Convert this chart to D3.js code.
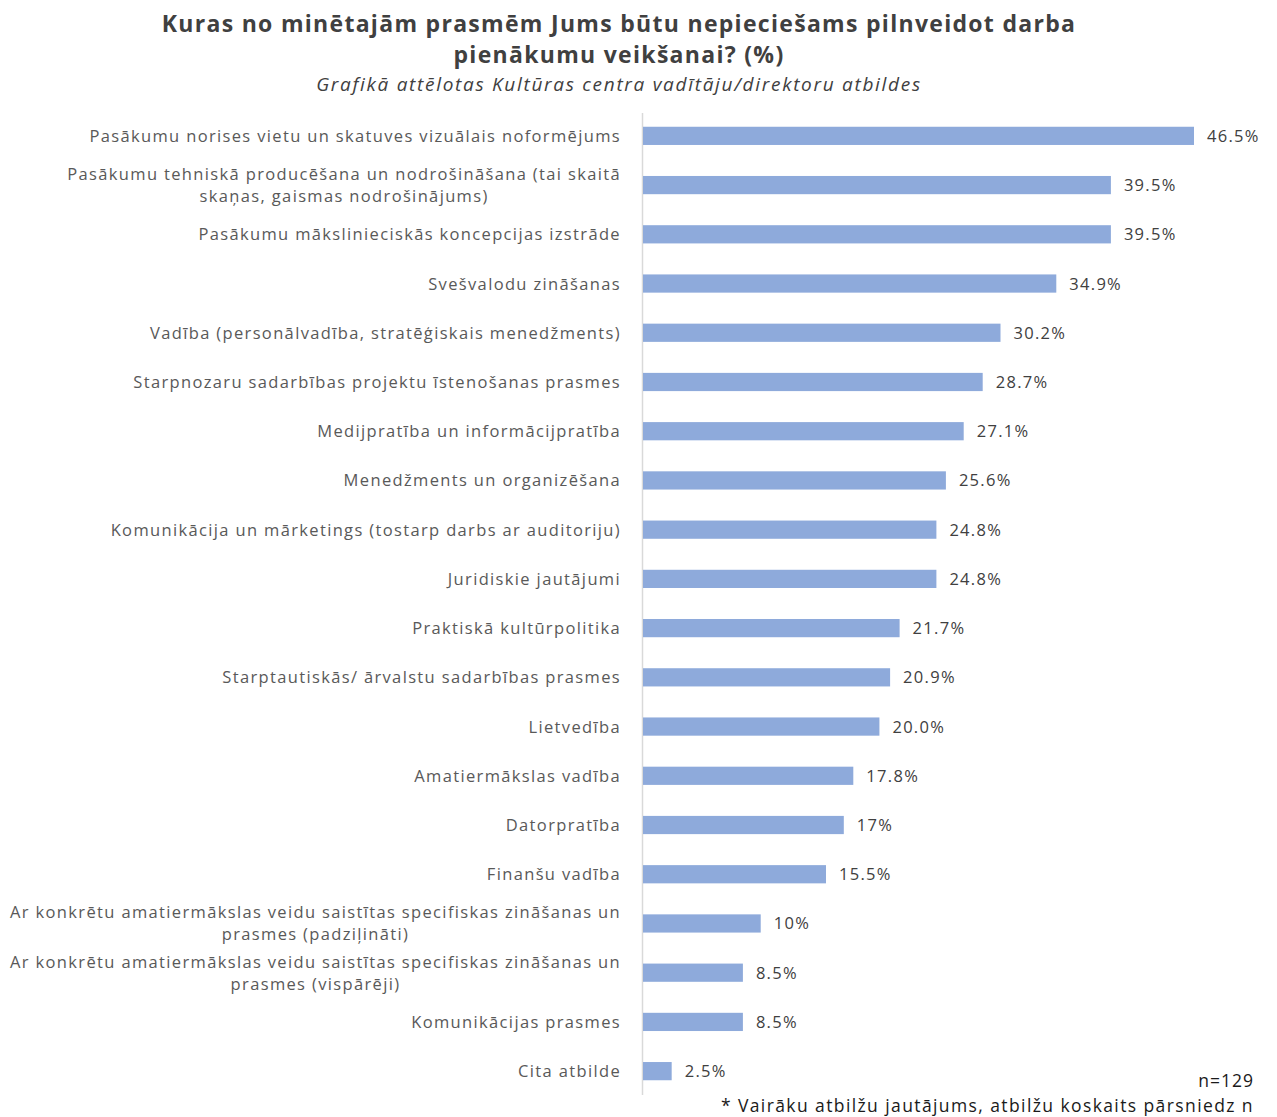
<!DOCTYPE html>
<html>
<head>
<meta charset="utf-8">
<script src="https://cdn.jsdelivr.net/npm/d3@7"></script>
<style>
  body { margin: 0; background: #fff; }
  svg { display: block; }
  .title { font-family: "Open Sans", sans-serif; font-weight: bold; fill: #404040; }
  .subtitle { font-family: "Open Sans", sans-serif; font-style: italic; fill: #404040; }
  .cat-label { font-family: "Open Sans", sans-serif; fill: #595959; }
  .val-label { font-family: "Open Sans", sans-serif; fill: #404040; }
  .note { font-family: "Open Sans", sans-serif; fill: #1a1a1a; }
</style>
</head>
<body>
<div id="chart"></div>
<script>

// kategorijas (rindas var būt divās līnijās)
var categories = [
    ["Pasākumu norises vietu un skatuves vizuālais noformējums"],
    ["Pasākumu tehniskā producēšana un nodrošināšana (tai skaitā", "skaņas, gaismas nodrošinājums)"],
    ["Pasākumu mākslinieciskās koncepcijas izstrāde"],
    ["Svešvalodu zināšanas"],
    ["Vadība (personālvadība, stratēģiskais menedžments)"],
    ["Starpnozaru sadarbības projektu īstenošanas prasmes"],
    ["Medijpratība un informācijpratība"],
    ["Menedžments un organizēšana"],
    ["Komunikācija un mārketings (tostarp darbs ar auditoriju)"],
    ["Juridiskie jautājumi"],
    ["Praktiskā kultūrpolitika"],
    ["Starptautiskās/ ārvalstu sadarbības prasmes"],
    ["Lietvedība"],
    ["Amatiermākslas vadība"],
    ["Datorpratība"],
    ["Finanšu vadība"],
    ["Ar konkrētu amatiermākslas veidu saistītas specifiskas zināšanas un", "prasmes (padziļināti)"],
    ["Ar konkrētu amatiermākslas veidu saistītas specifiskas zināšanas un", "prasmes (vispārēji)"],
    ["Komunikācijas prasmes"],
    ["Cita atbilde"]
];

var values = [46.5, 39.5, 39.5, 34.9, 30.2, 28.7, 27.1, 25.6, 24.8, 24.8, 21.7, 20.9, 20.0, 17.8, 17, 15.5, 10, 8.5, 8.5, 2.5];

var valueLabels = ["46.5%", "39.5%", "39.5%", "34.9%", "30.2%", "28.7%", "27.1%", "25.6%", "24.8%", "24.8%",
                   "21.7%", "20.9%", "20.0%", "17.8%", "17%", "15.5%", "10%", "8.5%", "8.5%", "2.5%"];

var titleLines = ["Kuras no minētajām prasmēm Jums būtu nepieciešams pilnveidot darba", "pienākumu veikšanai? (%)"];
var subtitle = "Grafikā attēlotas Kultūras centra vadītāju/direktoru atbildes";
var nNote = "n=129";
var footNote = "* Vairāku atbilžu jautājums, atbilžu koskaits pārsniedz n";

var width = 1277, height = 1117;
var margin = {top: 111, left: 642, right: 0, bottom: 21};

var svg = d3.select("#chart").append("svg")
    .attr("width", width)
    .attr("height", height);

var idx = d3.range(values.length);

var x = d3.scaleLinear()
    .domain([0, 46.5])
    .range([margin.left, 1194]);

var y = d3.scaleBand()
    .domain(idx)
    .range([111, 1096])
    .paddingInner(0.63)
    .paddingOuter(0.32);

/* virsraksts */
svg.selectAll(".title")
    .data(titleLines)
    .enter().append("text")
    .attr("class", "title")
    .attr("x", 619)
    .attr("y", function(d, i){ return 32 + i * 31; })
    .attr("text-anchor", "middle")
    .style("font-size", "23px")
    .style("letter-spacing", "1.3px")
    .text(function(d){ return d; });

svg.append("text")
    .attr("class", "subtitle")
    .attr("x", 619)
    .attr("y", 91)
    .attr("text-anchor", "middle")
    .style("font-size", "19px")
    .style("letter-spacing", "1.7px")
    .text(subtitle);

/* ass */
svg.append("line")
    .attr("x1", margin.left + 0.5)
    .attr("x2", margin.left + 0.5)
    .attr("y1", 113)
    .attr("y2", 1095)
    .attr("stroke", "#d9d9d9")
    .attr("stroke-width", 1.5);

/* stabiņi */
svg.selectAll(".bar")
    .data(idx)
    .enter().append("rect")
    .attr("class", "bar")
    .attr("x", x(0) + 1)
    .attr("y", function(i){ return y(i); })
    .attr("height", y.bandwidth())
    .attr("width", function(i){ return x(values[i]) - x(0) - 1; })
    .attr("fill", "#8eaadb");

/* vērtības */
svg.selectAll(".val-label")
    .data(idx)
    .enter().append("text")
    .attr("class", "val-label")
    .attr("x", function(i){ return x(values[i]) + 13; })
    .attr("y", function(i){ return y(i) + y.bandwidth() / 2 + 6; })
    .style("font-size", "16.5px")
    .style("letter-spacing", "1.3px")
    .text(function(i){ return valueLabels[i]; });

/* kategoriju nosaukumi */
var labelRight = 621;
var lineH = 22;

var labels = svg.selectAll(".cat-label")
    .data(idx)
    .enter().append("text")
    .attr("class", "cat-label")
    .style("font-size", "16.5px")
    .style("letter-spacing", "1.35px");

labels.each(function(i){
    var lines = categories[i];
    var el = d3.select(this);
    var cy = y(i) + y.bandwidth() / 2 + 6;
    var y0 = cy - (lines.length - 1) * lineH / 2;
    var first = el.append("tspan")
        .attr("x", labelRight)
        .attr("y", y0)
        .attr("text-anchor", "end")
        .text(lines[0]);
    if (lines.length > 1) {
        var w = first.node().getComputedTextLength();
        el.append("tspan")
            .attr("x", labelRight - w / 2)
            .attr("y", y0 + lineH)
            .attr("text-anchor", "middle")
            .text(lines[1]);
    }
});

/* piezīmes */
svg.append("text")
    .attr("class", "note")
    .attr("x", 1254)
    .attr("y", 1087)
    .attr("text-anchor", "end")
    .style("font-size", "17.5px")
    .style("letter-spacing", "1px")
    .text(nNote);

svg.append("text")
    .attr("class", "note")
    .attr("x", 1254)
    .attr("y", 1112)
    .attr("text-anchor", "end")
    .style("font-size", "17.5px")
    .style("letter-spacing", "1.4px")
    .text(footNote);

</script>
</body>
</html>
